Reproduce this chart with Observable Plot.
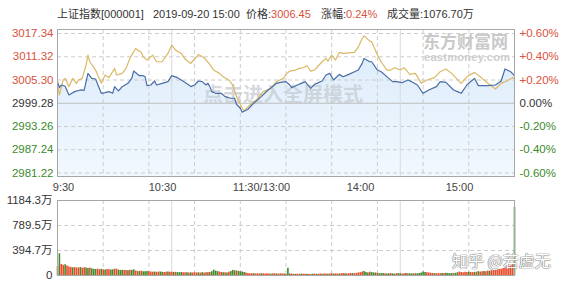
<!DOCTYPE html>
<html><head><meta charset="utf-8">
<script src="https://cdn.jsdelivr.net/npm/d3@7"></script>
<script src="https://cdn.jsdelivr.net/npm/@observablehq/plot@0.6"></script>
<style>
body{margin:0;background:#fff;}
#wrap{position:relative;width:570px;height:284px;overflow:hidden;font-family:"Liberation Sans",Arial,"Noto Sans CJK SC",sans-serif;}
#wrap svg{position:absolute;left:0;}
.hd{position:absolute;top:7px;font-size:11px;line-height:14px;color:#333;white-space:nowrap;}
.red{color:#d9503c;}
.wm{position:absolute;white-space:nowrap;}
</style></head><body>
<div id="wrap">
  <div class="hd" style="left:57px">上证指数[000001]</div>
  <div class="hd" style="left:153px">2019-09-20 15:00</div>
  <div class="hd" style="left:246px">价格:<span class="red">3006.45</span></div>
  <div class="hd" style="left:321px">涨幅:<span class="red">0.24%</span></div>
  <div class="hd" style="left:387px">成交量:1076.70万</div>
  <div class="wm" style="left:423px;top:33px;font-size:17px;font-weight:bold;color:#c9c9c9;line-height:20px;">东方财富网</div>
  <div class="wm" style="left:424px;top:51px;font-size:11px;font-weight:bold;color:#cdcdcd;line-height:12px;letter-spacing:0.3px;">eastmoney.com</div>
</div>
<script>
const FONT = '"Liberation Sans", Arial, "Noto Sans CJK SC", sans-serif';
const RED = "#d9503c", GREEN = "#3b8a2b", DARK = "#333";
const BAR_RED = "#ee4b2b", BAR_GREEN = "#3f8a2d";

// price axis
const prevClose = 2999.28;
const priceTicks = [3017.34, 3011.32, 3005.30, 2999.28, 2993.26, 2987.24, 2981.22];
const pctLabels = ["+0.60%", "+0.40%", "+0.20%", "0.00%", "-0.20%", "-0.40%", "-0.60%"];
const yDomain = [2980.31, 3018.38];

// x labels
const xLabels = ["9:30", "10:30", "11:30/13:00", "14:00", "15:00"];

// trading minutes since 9:30 (11:30 == 13:00 == 120, 15:00 == 240)
const blueT = [0,1,2,4,6,9,12,14,16,18,20,23,25,27,29,30,32,34,37,39,40,43,45,46,47,49,51,52,55,58,60,63,65,69,70,72,74,76,78,79,80,81,83,86,88,91,93,94,96,97,100,103,107,110,114,115,117,120,122,123,126,128,130,133,135,139,141,143,145,148,150,153,156,158,160,161,164,165,168,170,174,176,178,181,184,186,189,192,195,199,201,204,208,210,212,215,219,221,226,230,233,235,238,240];
const blueV = [3004.87,3003.32,3004.01,3003.67,3001.43,3002.29,3002.72,3002.63,3007.02,3005.73,3005.56,3001.86,3002.03,3002.29,3001.86,3003.58,3002.46,3003.58,3004.44,3005.73,3007.62,3006.42,3006.42,3006.16,3003.84,3004.01,3005.04,3004.01,3004.44,3004.87,3006.42,3005.90,3005.30,3004.01,3003.58,3004.01,3005.04,3004.87,3004.01,3004.44,3003.58,3002.29,3001.86,3001.86,3001.00,3000.57,3000.57,2999.02,2997.99,2996.96,2997.73,2999.28,3001.00,3002.46,3004.01,3004.44,3004.70,3004.87,3004.01,3003.32,3004.01,3004.44,3004.87,3003.15,3004.18,3005.04,3006.59,3007.02,3005.30,3006.76,3006.16,3006.76,3007.45,3007.88,3009.60,3010.89,3010.03,3010.03,3007.88,3007.45,3005.73,3004.87,3004.87,3004.61,3005.30,3004.87,3004.01,3001.86,3002.72,3003.58,3004.87,3004.70,3002.72,3002.29,3001.86,3004.01,3005.73,3003.84,3003.84,3004.01,3005.04,3008.14,3007.45,3006.45];

const yellowT = [0,1,3,4,6,8,10,11,13,15,16,17,20,23,25,27,30,31,34,36,38,41,44,45,47,50,52,55,58,60,62,65,67,70,73,74,77,80,82,85,87,90,92,94,97,98,101,105,108,112,115,119,120,122,125,127,129,131,133,135,137,139,141,142,144,146,148,150,153,156,158,160,161,164,165,168,170,173,175,177,180,182,185,188,191,194,198,201,204,207,212,215,219,223,226,230,233,236,239,240];
const yellowV = [3004.01,3001.43,3005.30,3005.73,3003.58,3005.73,3004.44,3005.30,3005.73,3009.17,3011.75,3010.03,3007.88,3004.44,3006.59,3005.90,3008.31,3006.59,3007.02,3008.31,3010.89,3013.47,3012.44,3011.32,3010.46,3011.75,3010.03,3010.03,3012.18,3014.33,3013.04,3012.18,3010.72,3009.60,3011.32,3011.92,3011.06,3009.34,3007.88,3007.02,3006.16,3005.30,3004.01,3001.00,2997.99,2997.30,2998.85,3000.40,3002.29,3003.15,3004.87,3005.90,3006.76,3007.62,3007.88,3008.31,3008.48,3008.99,3007.62,3007.88,3008.99,3010.03,3010.89,3010.20,3011.75,3010.46,3012.44,3012.18,3012.35,3012.44,3013.90,3016.05,3016.74,3015.36,3015.19,3011.75,3010.03,3007.88,3007.88,3008.48,3007.88,3008.48,3006.76,3007.02,3004.44,3005.30,3005.90,3007.45,3008.14,3007.02,3004.44,3006.16,3007.28,3005.73,3004.44,3002.98,3004.44,3005.04,3005.90,3005.73];

// per-minute volume (万), minute 0..240
const volume = [
  142,342,175,160,168,150,135,128,122,125,
  118,120,125,115,122,118,112,120,105,98,
  95,100,92,98,90,88,95,92,85,90,
  100,98,85,80,82,78,80,76,82,80,
  90,72,65,62,68,60,58,64,60,55,
  52,55,50,54,56,50,48,52,55,50,
  52,48,50,46,44,48,45,42,44,40,
  42,40,44,40,42,38,45,40,42,44,
  48,60,85,70,62,55,48,45,42,40,
  50,62,80,75,72,65,60,55,48,40,
  32,28,26,30,25,28,24,26,28,25,
  26,24,22,25,28,24,22,26,24,22,
  20,
  115,25,22,20,18,20,18,22,20,
  18,20,16,18,20,22,18,20,24,20,
  22,25,20,24,28,22,26,24,22,28,
  30,26,24,28,32,30,28,35,40,45,
  55,62,48,40,52,45,42,38,35,30,
  28,30,26,24,28,30,26,22,28,30,
  26,24,28,30,26,28,24,26,30,28,
  32,40,55,48,42,38,35,32,30,28,
  30,28,32,30,35,30,28,32,30,35,
  42,55,48,45,50,46,52,48,45,50,
  52,60,55,58,62,60,72,68,75,80,
  85,90,95,100,110,118,128,140,152,168,
  1076.70
];
const volDir = [
  "rgrrgrrrgr","rrgrrggrgg","grrgrgrrgg","rrgggrrgrg","grrgrgggrr","rgrrggrrgr",
  "rgrgggrrgr","grrrgrgrrg","rggggrrgrg","rgggrggggr","rrrgrrrgrr","rrgrrgrrrg",
  "r","ggrrgrrgr",
  "rgrrgrgrrg","rrgrrgrrgr","rgrrrgrrrr","rgggrgggrg","ggrggrggrg","grrgrgggrg",
  "ggggrrrrgr","rrgrggggrg","grrrrrgrrg","rgrrgrrgrr","rrrrrrrrrr","g"
].join("");
const volTicks = [1184.3, 789.5, 394.7, 0];
const volLabels = ["1184.3万", "789.5万", "394.7万", "0"];

const vGrid = d3.range(24, 240, 24);
const hourLines = [60, 180];

const blue = blueT.map((t, i) => ({t, v: blueV[i]}));
const yellow = yellowT.map((t, i) => ({t, v: yellowV[i]}));
const volData = volume.map((v, i) => ({t: i, v, c: volDir[i] === "g" ? BAR_GREEN : BAR_RED}));

const tickColor = d => d > prevClose + 0.001 ? RED : d < prevClose - 0.001 ? GREEN : DARK;
const gridStyle = {stroke: "#cccccc", strokeDasharray: "4,3", strokeWidth: 1};
const baseStyle = {fontFamily: FONT, fontSize: "11.5px", background: "transparent", overflow: "visible"};

const wrap = document.getElementById("wrap");

const main = Plot.plot({
  width: 570, height: 180,
  marginTop: 29, marginBottom: 4, marginLeft: 57, marginRight: 56,
  x: {domain: [0, 240], axis: null},
  y: {domain: yDomain, axis: null},
  color: {type: "identity"},
  style: baseStyle,
  marks: [
    Plot.areaY(blue, {x: "t", y1: yDomain[0], y2: "v", fill: "url(#areaGrad)"}),
    Plot.ruleY(priceTicks.filter(d => d !== prevClose), gridStyle),
    Plot.ruleY([prevClose], {stroke: "#bdbdbd", strokeWidth: 1}),
    Plot.ruleX(vGrid, gridStyle),
    Plot.ruleX(hourLines, {stroke: "#dadada", strokeWidth: 1}),
    Plot.text(["点击进入全屏模式"], {frameAnchor: "middle", dx: -3, dy: -7, fontSize: 20, fontWeight: "bold", fill: "#c6ccd2", fillOpacity: 0.75}),
    Plot.line(yellow, {x: "t", y: "v", stroke: "#dbb865", strokeWidth: 1.2}),
    Plot.line(blue, {x: "t", y: "v", stroke: "#4a6ea6", strokeWidth: 1.2}),
    Plot.frame({stroke: "#a6a6a6"}),
    Plot.text(priceTicks, {y: d => d, text: d => d.toFixed(2), frameAnchor: "left", textAnchor: "end", dx: -4, fill: tickColor}),
    Plot.text(priceTicks, {y: d => d, text: (d, i) => pctLabels[i], frameAnchor: "right", textAnchor: "start", dx: 5, fill: tickColor})
  ]
});
const defs = d3.select(main).insert("defs", ":first-child");
const grad = defs.append("linearGradient").attr("id", "areaGrad").attr("x1", 0).attr("y1", 0).attr("x2", 0).attr("y2", 1);
grad.append("stop").attr("offset", "0%").attr("stop-color", "#deedfb");
grad.append("stop").attr("offset", "100%").attr("stop-color", "#f2f8fe");
main.style.top = "0px";
wrap.insertBefore(main, wrap.firstChild);

const xl = Plot.plot({
  width: 570, height: 20, margin: 0,
  x: {type: "point", domain: xLabels, range: [63, 459], padding: 0, align: 0.5, axis: null},
  style: {...baseStyle, fontSize: "11px"},
  marks: [Plot.text(xLabels, {x: d => d, text: d => d, frameAnchor: "middle", fill: "#444"})]
});
xl.style.top = "177px";
wrap.appendChild(xl);

const vol = Plot.plot({
  width: 570, height: 94,
  marginTop: 10, marginBottom: 9, marginLeft: 57, marginRight: 56,
  x: {domain: [0, 240], axis: null},
  y: {domain: [0, 1184.3], axis: null},
  color: {type: "identity"},
  style: baseStyle,
  marks: [
    Plot.ruleY(volTicks.slice(1, 3), gridStyle),
    Plot.ruleX(vGrid, gridStyle),
    Plot.ruleX(hourLines, {stroke: "#dadada", strokeWidth: 1}),
    Plot.ruleX(volData, {x: "t", y1: 0, y2: "v", stroke: "c", strokeWidth: 1.6}),
    Plot.frame({stroke: "#a6a6a6"}),
    Plot.text(volTicks, {y: d => d, text: (d, i) => volLabels[i], frameAnchor: "left", textAnchor: "end", dx: -5, fill: DARK})
  ]
});
vol.style.top = "190px";
wrap.appendChild(vol);

const zh = document.createElement("div");
zh.className = "wm";
zh.style.cssText = "left:452px;top:250px;font-size:16px;line-height:20px;color:#fff;text-shadow:0 0 1px #777,0 0 1px #777,0 0 1px #777;font-family:'Noto Sans CJK SC',sans-serif;";
zh.textContent = "知乎 @若虚无";
wrap.appendChild(zh);
</script>
</body></html>
